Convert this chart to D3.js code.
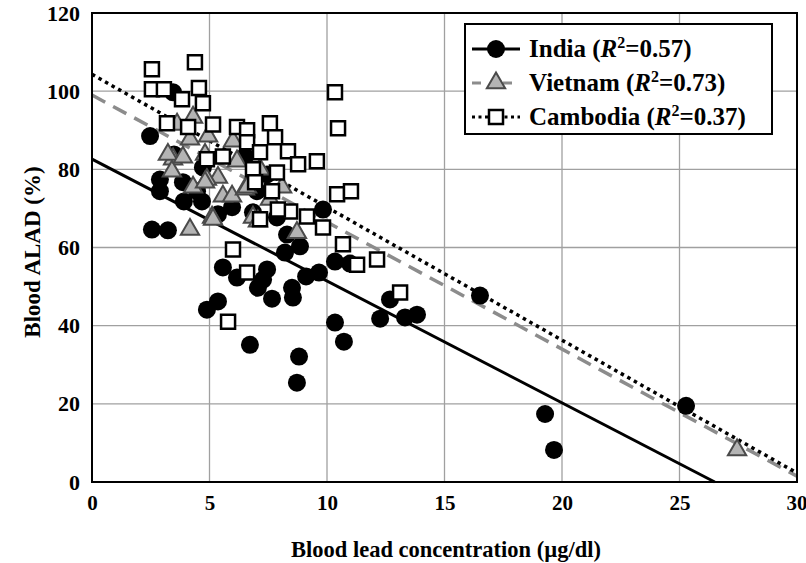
<!DOCTYPE html>
<html>
<head>
<meta charset="utf-8">
<script src="https://cdn.jsdelivr.net/npm/d3@7"></script>
<style>
  body { margin: 0; background: #fff; }
  svg { display: block; font-family: "Liberation Serif", "Times New Roman", serif; font-weight: bold; }
</style>
</head>
<body>
<div class="draw"></div>
<script>
const width = 806
const height = 563
const margin = {top: 13, right: 9, bottom: 81, left: 92}

// India (black circles) [lead, ALAD]
const india = [
  [2.47, 88.5], [3.45, 99.7], [3.49, 83.8], [2.89, 77.4], [2.89, 74.4],
  [3.87, 76.7], [3.91, 71.8], [4.47, 74.4], [4.68, 71.8], [4.72, 80.5],
  [5.36, 68.5], [5.96, 70.3], [2.55, 64.6], [3.23, 64.4], [6.51, 83.3],
  [7.45, 78.7], [7.02, 74.4], [6.85, 69.0], [7.87, 67.7], [8.30, 63.3],
  [8.85, 60.3], [9.83, 69.7], [5.57, 54.9], [6.17, 52.3], [7.45, 54.4],
  [7.28, 51.8], [7.06, 49.7], [7.66, 46.9], [8.51, 49.7], [8.55, 47.2],
  [4.89, 44.1], [5.36, 46.2], [6.72, 35.1], [8.81, 32.1], [8.72, 25.4],
  [10.34, 40.8], [10.72, 35.9], [12.26, 41.8], [12.68, 46.7], [13.32, 42.1],
  [13.83, 42.8], [9.11, 52.6], [9.66, 53.6], [10.34, 56.4], [10.98, 55.9],
  [8.21, 58.7], [16.51, 47.7], [19.28, 17.4], [19.66, 8.2], [25.28, 19.5]
]

// Vietnam (grey triangles)
const vietnam = [
  [3.62, 91.5], [4.30, 93.3], [4.94, 88.5], [3.45, 82.6], [3.40, 79.5],
  [3.23, 83.8], [3.87, 83.1], [4.81, 83.8], [5.36, 77.9], [4.89, 77.4],
  [4.30, 75.4], [5.57, 73.1], [5.96, 73.1], [5.11, 67.7], [4.17, 64.6],
  [6.51, 74.9], [6.17, 82.1], [6.85, 67.7], [6.00, 87.2], [4.81, 76.7],
  [8.09, 75.4], [6.60, 75.4], [5.15, 67.2], [7.06, 66.7], [8.72, 63.8],
  [4.17, 87.7], [7.15, 80.0], [7.57, 72.3], [27.45, 8.2]
]

// Cambodia (open squares)
const cambodia = [
  [2.55, 105.6], [4.38, 107.4], [2.55, 100.5], [3.06, 100.5], [4.55, 100.8],
  [3.83, 97.9], [4.72, 96.9], [3.19, 91.8], [4.09, 90.8], [5.15, 91.5],
  [6.17, 90.8], [6.60, 90.0], [7.57, 91.8], [7.79, 88.2], [10.47, 90.5],
  [10.34, 99.7], [6.60, 86.9], [7.15, 84.4], [8.34, 84.6], [8.77, 81.3],
  [9.57, 82.1], [5.57, 83.3], [4.89, 82.6], [6.85, 80.0], [7.87, 79.2],
  [6.94, 76.7], [7.66, 74.4], [8.43, 69.2], [7.91, 69.7], [9.15, 67.9],
  [9.83, 65.1], [10.43, 73.6], [11.02, 74.4], [10.68, 60.8], [11.28, 55.6],
  [12.13, 56.9], [13.11, 48.5], [6.00, 59.5], [6.60, 53.6], [5.79, 41.0],
  [7.15, 67.2]
]

// fitted lines: [intercept, slope]
const indiaFit = [82.6, -3.117]
const vietnamFit = [99.0, -3.25]
const cambodiaFit = [104.3, -3.4]

const xTicks = [0, 5, 10, 15, 20, 25, 30]
const yTicks = [0, 20, 40, 60, 80, 100, 120]

const legendRows = [
  {name: "India", r2: "0.57", kind: "india"},
  {name: "Vietnam", r2: "0.73", kind: "vietnam"},
  {name: "Cambodia", r2: "0.37", kind: "cambodia"}
]

let svg = d3.select("div.draw")
    .append("svg")
    .attr("width", width)
    .attr("height", height)

const x = d3.scaleLinear().domain([0, 30]).range([margin.left, width - margin.right])
const y = d3.scaleLinear().domain([0, 120]).range([height - margin.bottom, margin.top])

// grid
svg.append("g")
  .selectAll("line")
  .data(xTicks.slice(1, -1))
  .enter().append("line")
  .attr("x1", d => x(d)).attr("x2", d => x(d))
  .attr("y1", y(0)).attr("y2", y(120))
  .style("stroke", "#a0a0a0").style("stroke-width", 1.3)

svg.append("g")
  .selectAll("line")
  .data(yTicks.slice(1, -1))
  .enter().append("line")
  .attr("x1", x(0)).attr("x2", x(30))
  .attr("y1", d => y(d)).attr("y2", d => y(d))
  .style("stroke", "#a0a0a0").style("stroke-width", 1.3)

// axes (labels only, frame drawn separately)
let xAxis = svg.append("g")
  .attr("transform", "translate(0," + y(0) + ")")
  .call(d3.axisBottom(x).tickValues(xTicks).tickSize(0).tickPadding(13))
xAxis.select(".domain").remove()
xAxis.selectAll("text").style("font-size", "21px").style("font-family", "Liberation Serif").style("font-weight", "bold").attr("fill", "#000")
// keep the last label inside the window
xAxis.selectAll("text").filter(d => d === 30).attr("text-anchor", "end").attr("dx", 10)

let yAxis = svg.append("g")
  .attr("transform", "translate(" + x(0) + ",0)")
  .call(d3.axisLeft(y).tickValues(yTicks).tickSize(0).tickPadding(12))
yAxis.select(".domain").remove()
yAxis.selectAll("text").style("font-size", "22px").style("font-family", "Liberation Serif").style("font-weight", "bold").attr("fill", "#000")

// fit lines, clipped at y = 0
function fitLine(fit){
  let [a, b] = fit
  let xEnd = Math.min(30, -a / b)
  return [[0, a], [xEnd, a + b * xEnd]]
}
const line = d3.line().x(d => x(d[0])).y(d => y(d[1]))

svg.append("path").attr("d", line(fitLine(indiaFit)))
  .style("fill", "none").style("stroke", "#000").style("stroke-width", 3)
svg.append("path").attr("d", line(fitLine(vietnamFit)))
  .style("fill", "none").style("stroke", "#8c8c8c").style("stroke-width", 3.5)
  .style("stroke-dasharray", "15,9")
svg.append("path").attr("d", line(fitLine(cambodiaFit)))
  .style("fill", "none").style("stroke", "#000").style("stroke-width", 3.5)
  .style("stroke-dasharray", "3.5,4")

const triangle = d3.symbol().type(d3.symbolTriangle).size(145)
const square = d3.symbol().type(d3.symbolSquare).size(196)

function drawMarker(sel, kind){
  if(kind === "india"){
    sel.append("circle").attr("r", 9).style("fill", "#000")
  } else if(kind === "vietnam"){
    sel.append("path").attr("d", triangle())
      .style("fill", "#b4b4b4").style("stroke", "#4a4a4a").style("stroke-width", 2)
  } else {
    sel.append("path").attr("d", square())
      .style("fill", "#fff").style("stroke", "#000").style("stroke-width", 2.5)
  }
}

function drawSeries(data, kind){
  let g = svg.append("g")
  g.selectAll("g")
    .data(data)
    .enter().append("g")
    .attr("transform", d => "translate(" + x(d[0]) + "," + y(d[1]) + ")")
    .each(function(){ drawMarker(d3.select(this), kind) })
}

drawSeries(india, "india")
drawSeries(vietnam, "vietnam")
drawSeries(cambodia, "cambodia")

// frame
svg.append("rect")
  .attr("x", x(0)).attr("y", y(120))
  .attr("width", x(30) - x(0)).attr("height", y(0) - y(120))
  .style("fill", "none").style("stroke", "#000").style("stroke-width", 2)

// legend
let legend = svg.append("g").attr("transform", "translate(465,24)")
legend.append("rect")
  .attr("width", 307).attr("height", 110)
  .style("fill", "#fff").style("stroke", "#000").style("stroke-width", 2)

let rows = legend.selectAll("g.row")
  .data(legendRows)
  .enter().append("g")
  .attr("class", "row")
  .attr("transform", (d, i) => "translate(0," + (25 + i * 34) + ")")

rows.append("line")
  .attr("x1", 7).attr("x2", 55).attr("y1", 0).attr("y2", 0)
  .style("stroke", d => d.kind === "vietnam" ? "#8c8c8c" : "#000")
  .style("stroke-width", 3)
  .style("stroke-dasharray", d => d.kind === "india" ? null : d.kind === "vietnam" ? "9,22" : "3,3.5")
rows.append("g")
  .attr("transform", "translate(31,0)")
  .each(function(d){ drawMarker(d3.select(this), d.kind) })

let txt = rows.append("text")
  .attr("x", 64).attr("y", 8)
  .style("font-size", "25px")
txt.append("tspan").text(d => d.name + " (")
txt.append("tspan").style("font-style", "italic").text("R")
txt.append("tspan").attr("dy", -9).style("font-size", "16px").text("2")
txt.append("tspan").attr("dy", 9).text(d => "=" + d.r2 + ")")

// axis titles
svg.append("text")
  .attr("x", 446).attr("y", 557)
  .attr("text-anchor", "middle")
  .style("font-size", "22.5px")
  .text("Blood lead concentration (µg/dl)")

svg.append("text")
  .attr("transform", "translate(40,252) rotate(-90)")
  .attr("text-anchor", "middle")
  .style("font-size", "23px")
  .text("Blood ALAD (%)")
</script>
</body>
</html>
